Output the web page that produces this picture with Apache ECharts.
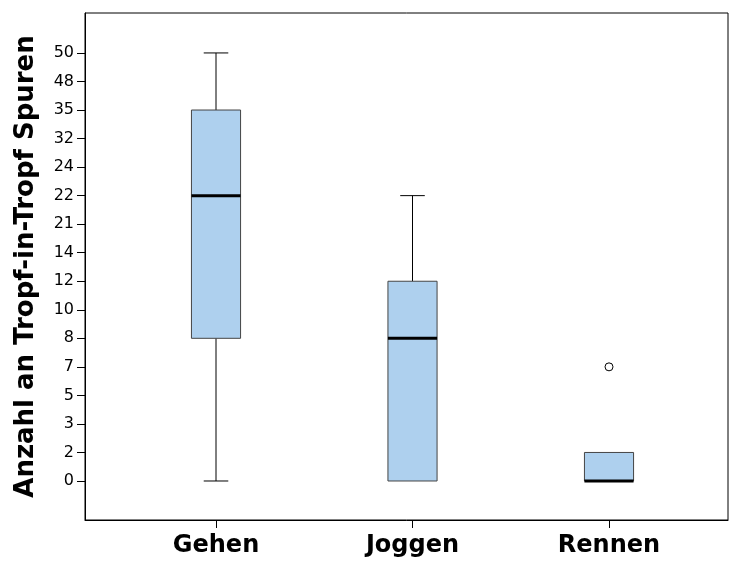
<!DOCTYPE html>
<html>
<head>
<meta charset="utf-8">
<script src="https://cdn.jsdelivr.net/npm/echarts@6/dist/echarts.min.js"></script>
<style>html,body{margin:0;padding:0;background:#fff;}#c{width:729px;height:565px;}</style>
</head>
<body>
<div id="c"></div>
<script>
// Ordinal tick labels of the y axis (equally spaced in the original)
const yTickLabels = ['0','2','3','5','7','8','10','12','14','21','22','24','32','35','48','50'];
const categories = ['Gehen', 'Joggen', 'Rennen'];
const minVals = [0, 0, 0];
const q1Vals = [8, 0, 0];
const medianVals = [22, 8, 0];
const q3Vals = [35, 12, 2];
const maxVals = [50, 22, 2];
const outlierCats = ['Rennen'];
const outlierVals = [7];

const rank = v => yTickLabels.indexOf(String(v));

const boxData = categories.map((c, i) => [
  i + 1, rank(minVals[i]), rank(q1Vals[i]), rank(medianVals[i]), rank(q3Vals[i]), rank(maxVals[i])
]);
const outlierData = outlierCats.map((c, i) => [categories.indexOf(c) + 1, rank(outlierVals[i])]);

const chart = echarts.init(document.getElementById('c'));
const black = '#000';
const FONT = 'DejaVu Sans';

chart.setOption({
  animation: false,
  backgroundColor: '#fff',
  grid: { left: 85, right: 1, top: 13, bottom: 45, show: true, borderColor: black, borderWidth: 1, backgroundColor: 'transparent' },
  xAxis: {
    type: 'value', min: 0.3333, max: 3.6056,
    axisLine: { show: true, onZero: false, lineStyle: { color: black } },
    axisTick: { show: true, length: 8, lineStyle: { color: black }, customValues: [1, 2, 3] },
    axisLabel: { customValues: [1, 2, 3], formatter: v => categories[Math.round(v) - 1], color: black,
      fontFamily: FONT, fontWeight: 'bold', fontSize: 24, margin: 14 },
    splitLine: { show: false }
  },
  yAxis: {
    type: 'value', min: -1.367, max: 16.40,
    name: 'Anzahl an Tropf-in-Tropf Spuren', nameLocation: 'middle', nameGap: 46,
    nameTextStyle: { color: black, fontFamily: FONT, fontWeight: 'bold', fontSize: 26 },
    axisLine: { show: true, onZero: false, lineStyle: { color: black } },
    axisTick: { show: true, length: 8, lineStyle: { color: black }, customValues: yTickLabels.map((t, i) => i) },
    axisLabel: { customValues: yTickLabels.map((t, i) => i), formatter: v => yTickLabels[Math.round(v)], color: black,
      fontFamily: FONT, fontSize: 16, margin: 11 },
    splitLine: { show: false }
  },
  series: [
    {
      type: 'custom',
      data: boxData,
      encode: { x: 0, y: [1, 2, 3, 4, 5] },
      renderItem: function (params, api) {
        const x = api.value(0);
        const pMin = api.coord([x, api.value(1)]);
        const pQ1 = api.coord([x, api.value(2)]);
        const pMed = api.coord([x, api.value(3)]);
        const pQ3 = api.coord([x, api.value(4)]);
        const pMax = api.coord([x, api.value(5)]);
        const bw = api.size([1, 0])[0] * 0.25;
        const hw = bw / 2, cw = bw / 4;
        const cx = pMed[0];
        const lineStyle = { stroke: '#000', lineWidth: 1 };
        const children = [];
        if (Math.abs(pMin[1] - pQ1[1]) > 0.5) {
          children.push({ type: 'line', shape: { x1: cx, y1: pQ1[1], x2: cx, y2: pMin[1] }, style: lineStyle });
          children.push({ type: 'line', shape: { x1: cx - cw, y1: pMin[1], x2: cx + cw, y2: pMin[1] }, style: lineStyle });
        }
        if (Math.abs(pMax[1] - pQ3[1]) > 0.5) {
          children.push({ type: 'line', shape: { x1: cx, y1: pQ3[1], x2: cx, y2: pMax[1] }, style: lineStyle });
          children.push({ type: 'line', shape: { x1: cx - cw, y1: pMax[1], x2: cx + cw, y2: pMax[1] }, style: lineStyle });
        }
        children.push({ type: 'rect', shape: { x: cx - hw, y: pQ3[1], width: bw, height: pQ1[1] - pQ3[1] },
          style: { fill: '#aed0ee', stroke: '#444', lineWidth: 1 } });
        children.push({ type: 'line', shape: { x1: cx - hw, y1: pMed[1], x2: cx + hw, y2: pMed[1] },
          style: { stroke: '#000', lineWidth: 3 } });
        return { type: 'group', children: children };
      },
      z: 2
    },
    {
      type: 'scatter',
      data: outlierData,
      symbol: 'circle',
      symbolSize: 8,
      itemStyle: { color: '#fff', borderColor: '#000', borderWidth: 1, opacity: 1 },
      z: 3
    }
  ]
});
</script>
</body>
</html>
